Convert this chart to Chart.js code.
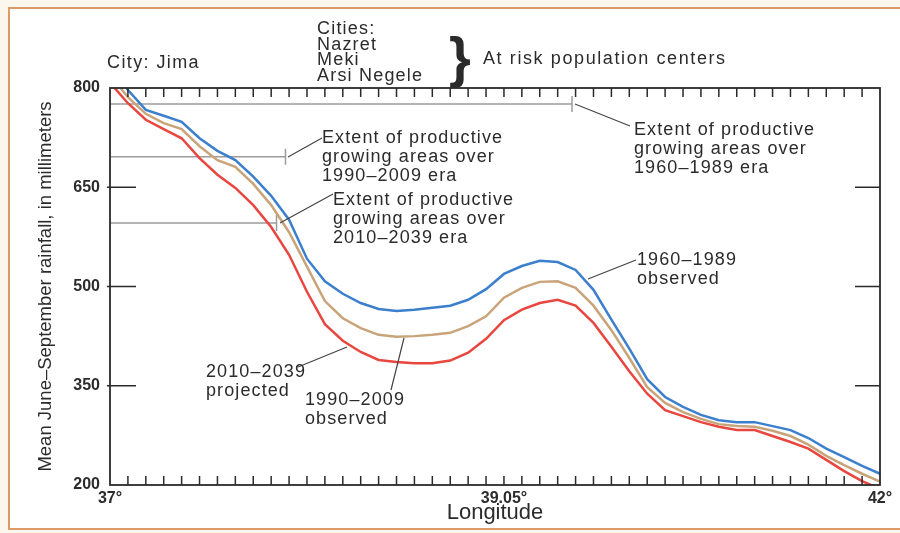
<!DOCTYPE html>
<html>
<head>
<meta charset="utf-8">
<script src="https://cdn.jsdelivr.net/npm/chart.js@4/dist/chart.umd.min.js"></script>
<style>
html, body { margin: 0; padding: 0; background: #fbf7ec; }
#wrap { width: 900px; height: 533px; }
</style>
</head>
<body>
<div id="wrap"><canvas id="grafico" width="900" height="533"></canvas></div>
<script>
// longitude grid cells, 37° to 42°
const xLabels = ['37°', '', '', '', '', '', '', '', '', '', '', '',
  '', '', '', '', '', '', '', '', '', '', '39.05°', '',
  '', '', '', '', '', '', '', '', '', '', '', '',
  '', '', '', '', '', '', '', '42°'];

// mean June-September rainfall, mm
const observed1960 = [835, 797, 767, 758, 749, 724, 705, 691, 666, 637, 601, 542,
  508, 489, 475, 466, 463, 465, 468, 471, 480, 496, 519, 531,
  539, 537, 525, 495, 450, 406, 360, 333, 318, 306, 298, 295,
  295, 289, 283, 271, 255, 242, 229, 217];
const observed1990 = [820, 786, 761, 747, 738, 712, 691, 681, 655, 623, 582, 530,
  478, 452, 437, 427, 424, 425, 427, 430, 440, 455, 483, 498,
  507, 508, 498, 471, 434, 392, 348, 324, 310, 300, 292, 289,
  288, 282, 274, 261, 244, 230, 217, 205];
const projected2010 = [808, 777, 752, 738, 724, 694, 669, 649, 623, 590, 548, 492,
  443, 418, 401, 389, 386, 384, 384, 388, 400, 421, 449, 465,
  475, 480, 471, 445, 409, 372, 338, 313, 304, 295, 288, 283,
  283, 274, 265, 255, 238, 221, 206, 194];

const yTicks = [200, 350, 500, 650, 800];

// extent of productive growing areas (rainfall level, last grid cell)
const extentLevels = [776, 696, 596];
const extentEnds = [25.8, 9.8, 9.3];

const texto = '#2b2b2b';
const fuente = '"Liberation Sans", Arial, sans-serif';

// notas: texto, x, y base, interlineado
const notas = [
  { lines: ['City: Jima'], x: 107, y: 68, lh: 16, sp: 1.4 },
  { lines: ['Cities:', 'Nazret', 'Meki', 'Arsi Negele'], x: 317, y: 34, lh: 15.5, sp: 1.2 },
  { lines: ['At risk population centers'], x: 483, y: 64, lh: 16, sp: 1.6 },
  { lines: ['Extent of productive', 'growing areas over', '1960–1989 era'], x: 634, y: 135, lh: 19, sp: 1.1 },
  { lines: ['Extent of productive', 'growing areas over', '1990–2009 era'], x: 322, y: 143, lh: 19, sp: 1.1 },
  { lines: ['Extent of productive', 'growing areas over', '2010–2039 era'], x: 333, y: 205, lh: 19, sp: 1.1 },
  { lines: ['1960–1989', 'observed'], x: 637, y: 265, lh: 19, sp: 1.1 },
  { lines: ['2010–2039', 'projected'], x: 206, y: 377, lh: 19, sp: 1.1 },
  { lines: ['1990–2009', 'observed'], x: 305, y: 405, lh: 19, sp: 1.1 }
];

// lineas guia [x1, y1, x2, y2]
const guias = [
  [575, 104, 630, 126],
  [288, 157, 322, 138],
  [280, 223, 333, 194],
  [588, 279, 636, 260],
  [298, 367, 347, 347],
  [391, 390, 404, 338]
];

const decor = {
  id: 'decor',
  beforeDraw(chart) {
    const c = chart.ctx;
    c.save();
    c.fillStyle = '#fbf7ec';
    c.fillRect(0, 0, 900, 533);
    c.fillStyle = '#ffffff';
    c.fillRect(9, 8, 891, 521);
    c.strokeStyle = '#dc9a68';
    c.lineWidth = 2;
    c.beginPath();
    c.moveTo(900, 8); c.lineTo(9, 8); c.lineTo(9, 529); c.lineTo(900, 529);
    c.stroke();
    c.restore();
  },
  beforeDatasetsDraw(chart) {
    const c = chart.ctx;
    const xs = chart.scales.x, ys = chart.scales.y;
    const a = chart.chartArea;
    c.save();
    c.strokeStyle = '#9c9c9c';
    c.lineWidth = 1.5;
    for (let i = 0; i < extentLevels.length; i++) {
      const y = ys.getPixelForValue(extentLevels[i]);
      const x = xs.getPixelForValue(extentEnds[i]);
      c.beginPath();
      c.moveTo(a.left, y); c.lineTo(x, y);
      c.moveTo(x, y - 8); c.lineTo(x, y + 8);
      c.stroke();
    }
    c.restore();
  },
  afterDatasetsDraw(chart) {
    const c = chart.ctx;
    const xs = chart.scales.x, ys = chart.scales.y;
    const a = chart.chartArea;
    c.save();
    c.strokeStyle = '#2a2a2a';
    c.lineWidth = 1.8;
    c.strokeRect(a.left, a.top, a.right - a.left, a.bottom - a.top);
    c.lineWidth = 1.5;
    c.beginPath();
    for (let k = 1; k < xLabels.length - 1; k++) {
      const x = xs.getPixelForValue(k);
      c.moveTo(x, a.top); c.lineTo(x, a.top + 9);
      c.moveTo(x, a.bottom); c.lineTo(x, a.bottom - 9);
    }
    for (const v of yTicks) {
      if (v === ys.min || v === ys.max) continue;
      const y = ys.getPixelForValue(v);
      c.moveTo(a.left - 3, y); c.lineTo(a.left + 26, y);
      c.moveTo(a.right - 25, y); c.lineTo(a.right, y);
    }
    c.stroke();

    // guias
    c.strokeStyle = '#444';
    c.lineWidth = 1.2;
    c.beginPath();
    for (const g of guias) { c.moveTo(g[0], g[1]); c.lineTo(g[2], g[3]); }
    c.stroke();

    // textos
    c.fillStyle = texto;
    c.font = '18px ' + fuente;
    c.textBaseline = 'alphabetic';
    for (const n of notas) {
      c.letterSpacing = n.sp + 'px';
      n.lines.forEach((t, i) => c.fillText(t, n.x, n.y + i * n.lh));
    }
    c.letterSpacing = '0px';
    c.font = 'bold 56px ' + fuente;
    c.fillText('}', 449, 76);
    c.restore();
  }
};

const chart = new Chart(document.getElementById('grafico'), {
  type: 'line',
  data: {
    labels: xLabels,
    datasets: [
      { label: '1960–1989 observed', data: observed1960, borderColor: '#3b7fcd' },
      { label: '1990–2009 observed', data: observed1990, borderColor: '#c9a47a' },
      { label: '2010–2039 projected', data: projected2010, borderColor: '#e8463e' }
    ]
  },
  options: {
    responsive: false,
    animation: false,
    layout: { padding: { left: 35, right: 20, top: 88, bottom: 7 } },
    elements: {
      point: { radius: 0 },
      line: { borderWidth: 2.5, tension: 0, fill: false }
    },
    plugins: {
      legend: { display: false },
      tooltip: { enabled: false }
    },
    scales: {
      x: {
        type: 'category',
        offset: false,
        grid: { display: false, drawTicks: false },
        border: { display: false },
        ticks: {
          autoSkip: false, maxRotation: 0, padding: 4, color: texto,
          font: { family: fuente, size: 16, weight: 'bold' }
        },
        title: {
          display: true, text: 'Longitude', padding: 0, color: texto,
          font: { family: fuente, size: 22 }
        },
        afterFit(s) { s.height = 41; }
      },
      y: {
        min: 200, max: 800,
        afterBuildTicks(s) { s.ticks = yTicks.map(v => ({ value: v })); },
        grid: { display: false, drawTicks: false },
        border: { display: false },
        ticks: {
          padding: 10, color: texto,
          font: { family: fuente, size: 16, weight: 'bold' }
        },
        title: {
          display: true, text: 'Mean June–September rainfall, in millimeters', padding: 0, color: texto,
          font: { family: fuente, size: 18.5 }
        },
        afterFit(s) { s.width = 75; }
      }
    }
  },
  plugins: [decor]
});
</script>
</body>
</html>
